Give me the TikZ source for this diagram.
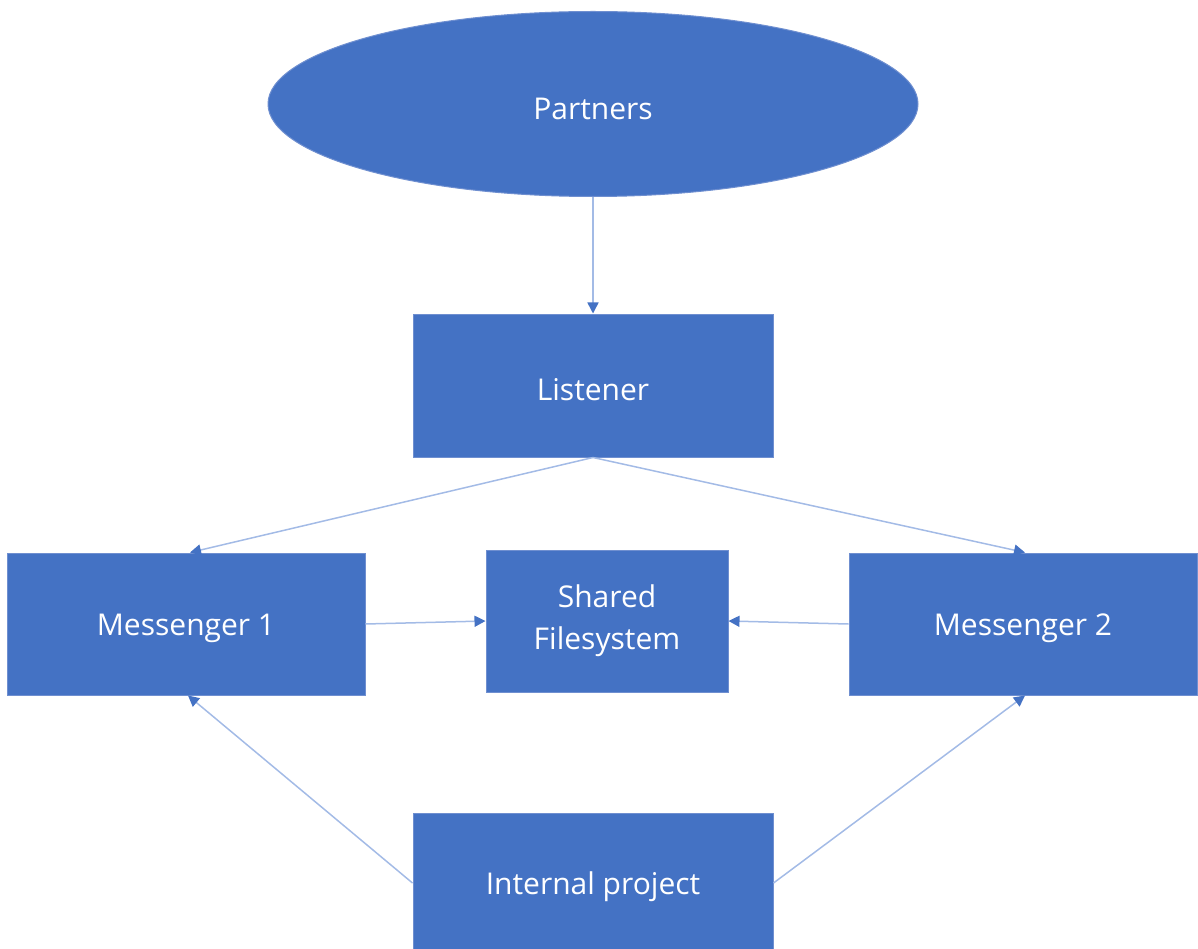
\documentclass[tikz,border=0pt]{standalone}
\usepackage{fontspec}
\setmainfont{Open Sans}
\usetikzlibrary{arrows.meta,shapes.geometric}
\definecolor{boxblue}{HTML}{4472C4}
\definecolor{edgeblue}{HTML}{6F8FD0}
\definecolor{lineblue}{HTML}{A3BBE6}
\begin{document}
\begin{tikzpicture}[x=1pt,y=-1pt,
  blockbox/.style={draw=edgeblue,line width=1pt,fill=boxblue,text=white,font=\fontsize{30}{42}\selectfont,align=center,inner sep=0pt,execute at begin node={\rule{0pt}{31pt}}},
  conn/.style={draw=lineblue,line width=1.5pt,-{Triangle[length=11pt,width=11pt,color=boxblue]}}]
\useasboundingbox (0,0) rectangle (1198,949);
\node[blockbox,ellipse,minimum width=650,minimum height=185] (p) at (593,104) {Partners};
\node[blockbox,minimum width=360,minimum height=143] (l) at (593,385.5) {Listener};
\node[blockbox,minimum width=358,minimum height=142] (m1) at (186,624) {Messenger 1};
\node[blockbox,minimum width=242,minimum height=142] (s) at (607,621) {Shared\\Filesystem};
\node[blockbox,minimum width=348,minimum height=142] (m2) at (1023,624) {Messenger 2};
\node[blockbox,minimum width=360,minimum height=140] (i) at (593,883) {Internal project};
\draw[conn] (p.south) -- (l.north);
\draw[conn] (l.south) -- ([xshift=4pt]m1.north);
\draw[conn] (l.south) -- ([xshift=2pt]m2.north);
\draw[conn] (m1.east) -- (s.west);
\draw[conn] (m2.west) -- (s.east);
\draw[conn] (i.west) -- ([xshift=2pt]m1.south);
\draw[conn] (i.east) -- ([xshift=2pt]m2.south);
\end{tikzpicture}
\end{document}
